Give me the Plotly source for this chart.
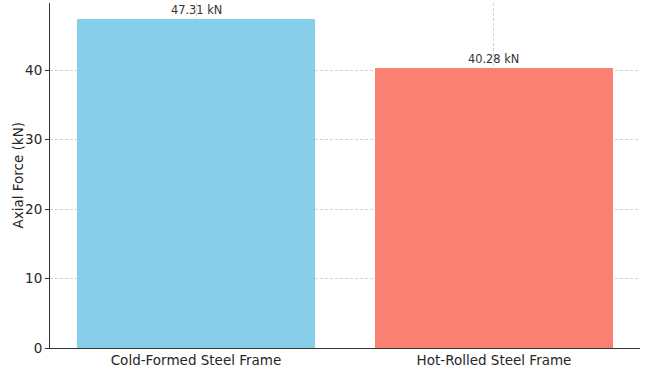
import plotly.graph_objects as go

categories = ["Cold-Formed Steel Frame", "Hot-Rolled Steel Frame"]
values = [47.31, 40.28]
colors = ["#87CEEB", "#FA8072"]
labels = [f"{v:.2f} kN" for v in values]
ytick_vals = [0, 10, 20, 30, 40]
y_title = "Axial Force (kN)"

fig = go.Figure()
fig.add_trace(go.Bar(
    x=[0, 1], y=values, marker=dict(color=colors, line=dict(width=0)),
    width=0.8, showlegend=False,
))
for i, (v, t) in enumerate(zip(values, labels)):
    fig.add_annotation(x=i, y=v, text=t, showarrow=False, yanchor="bottom", yshift=0,
                       font=dict(family="DejaVu Sans", size=11.4, color="#333333"))

fig.add_annotation(xref="paper", yref="paper", x=0, y=0.5, xshift=-33, text=y_title,
                   textangle=-90, showarrow=False, xanchor="center", yanchor="middle",
                   font=dict(family="DejaVu Sans", size=13.5, color="#262626"))

grid = "rgba(150,150,150,0.42)"
fig.update_layout(
    width=655, height=369,
    margin=dict(l=50, r=15, t=3, b=21),
    paper_bgcolor="white", plot_bgcolor="white",
    font=dict(family="DejaVu Sans", size=13.5, color="#262626"),
    bargap=0,
)
fig.update_xaxes(
    range=[-0.49, 1.49], tickvals=[0, 1], ticktext=categories,
    showline=True, linecolor="#333333", linewidth=1,
    ticks="", ticklen=0,
    showgrid=True, gridcolor=grid, griddash="3px,2px", gridwidth=0.8,
    zeroline=False, layer="above traces", automargin=False,
)
fig.update_yaxes(
    range=[0, 49.68], tickvals=ytick_vals,
    showline=True, linecolor="#333333", linewidth=1,
    ticks="outside", ticklen=4, tickcolor="#333333",
    showgrid=True, gridcolor=grid, griddash="3px,2px", gridwidth=0.8,
    zeroline=False, layer="above traces", automargin=False,
)
fig.write_html("out.html", config={"displayModeBar": False},
               post_script="document.body.style.margin='0';document.body.style.overflow='hidden';")
